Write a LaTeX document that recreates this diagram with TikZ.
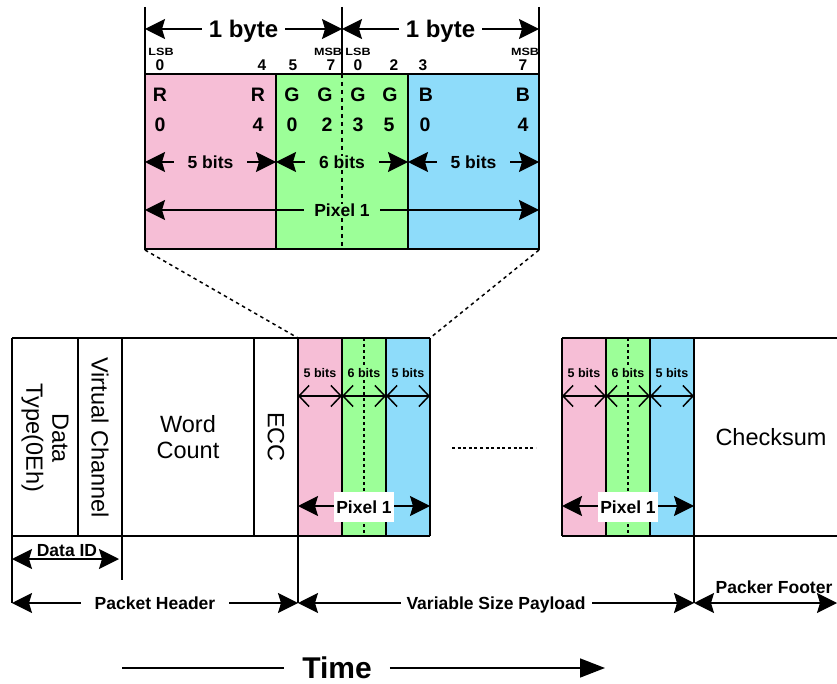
\documentclass[tikz,border=0pt]{standalone}
\usepackage{fontspec}
\setmainfont{Liberation Sans}
\usetikzlibrary{arrows.meta}
\definecolor{pk}{RGB}{246,190,214}
\definecolor{gn}{RGB}{156,255,152}
\definecolor{bl}{RGB}{142,220,250}
\begin{document}
\begin{tikzpicture}[x=1pt,y=-1pt,
  bd/.style={line width=1.6pt},
  dsh/.style={line width=1.5pt,dash pattern=on 4pt off 4pt},
  fa/.style={line width=1.6pt,{Stealth[length=20pt,width=20pt,inset=3pt]}-{Stealth[length=20pt,width=20pt,inset=3pt]}},
  oa/.style={line width=1.5pt,{Straight Barb[length=10pt,width=21pt]}-{Straight Barb[length=10pt,width=21pt]}},
  fbyte/.style={font=\bfseries\fontsize{24}{24}\selectfont,text height=17.2pt,text depth=0pt,inner ysep=0pt,inner xsep=7pt},
  flet/.style={font=\bfseries\fontsize{19.5}{19.5}\selectfont,text height=14pt,text depth=0pt,inner sep=0pt},
  fdig/.style={font=\bfseries\fontsize{15.5}{15.5}\selectfont,text height=11pt,text depth=0pt,inner sep=0pt},
  flsb/.style={font=\bfseries\fontsize{10.5}{10.5}\selectfont,text height=7.5pt,text depth=0pt,inner sep=0pt,xscale=1.2},
  fmid/.style={font=\bfseries\fontsize{17.5}{17.5}\selectfont,text height=12.6pt,text depth=0pt,inner ysep=0pt},
  fsm/.style={font=\bfseries\fontsize{12.5}{12.5}\selectfont,text height=9pt,text depth=0pt,inner sep=1pt},
  freg/.style={font=\fontsize{23.5}{26}\selectfont,align=center,inner sep=0pt},
  ftime/.style={font=\bfseries\fontsize{30}{30}\selectfont,text height=21.5pt,text depth=0pt,inner sep=0pt}
]
\useasboundingbox (0,0) rectangle (837,684);

% ---------- top enlarged pixel ----------
\fill[pk] (145,74) rectangle (276,249);
\fill[gn] (276,74) rectangle (408,249);
\fill[bl] (408,74) rectangle (539,249);
\draw[dsh] (342,74) -- (342,249);
\draw[bd] (145,74) rectangle (539,249);
\draw[bd] (276,74) -- (276,249);
\draw[bd] (408,74) -- (408,249);
\coordinate (tA) at (145,7);
\coordinate (tB) at (342,7);
\coordinate (tC) at (539,7);
\draw[bd] (tA) -- (145,74);
\draw[bd] (tB) -- (342,74);
\draw[bd] (tC) -- (539,74);
\draw[fa] (145,29) -- node[fbyte,fill=white] (byte1) {1 byte} (342,29);
\draw[fa] (342,29) -- node[fbyte,fill=white] (byte2) {1 byte} (539,29);

\node[flsb] (lsb1) at (161,52) {LSB};
\node[flsb] (msb1) at (328,52) {MSB};
\node[flsb] (lsb2) at (358,52) {LSB};
\node[flsb] (msb2) at (525,52) {MSB};
\node[fdig] (d0) at (160,65.5) {0};
\node[fdig] (d4) at (262,65.5) {4};
\node[fdig] (d5) at (293,65.5) {5};
\node[fdig] (d7) at (331,65.5) {7};
\node[fdig] (e0) at (358,65.5) {0};
\node[fdig] (e2) at (394,65.5) {2};
\node[fdig] (e3) at (423,65.5) {3};
\node[fdig] (e7) at (523,65.5) {7};

\node[flet] (r0) at (160,95) {R};
\node[flet] (r4) at (258,95) {R};
\node[flet] (g0) at (292,95) {G};
\node[flet] (g2) at (325,95) {G};
\node[flet] (g3) at (358,95) {G};
\node[flet] (g5) at (390,95) {G};
\node[flet] (b0) at (426,95) {B};
\node[flet] (b4) at (523,95) {B};
\node[flet] (nr0) at (160,125) {0};
\node[flet] (nr4) at (258,125) {4};
\node[flet] (ng0) at (292,125) {0};
\node[flet] (ng2) at (327,125) {2};
\node[flet] (ng3) at (358,125) {3};
\node[flet] (ng5) at (389,125) {5};
\node[flet] (nb0) at (425,125) {0};
\node[flet] (nb4) at (523,125) {4};

\draw[fa] (145,162) -- node[fmid,fill=pk,inner xsep=14pt] (tb1) {5 bits} (276,162);
\draw[fa] (276,162) -- node[fmid,fill=gn,inner xsep=14pt] (tb2) {6 bits} (408,162);
\draw[fa] (408,162) -- node[fmid,fill=bl,inner xsep=14pt] (tb3) {5 bits} (539,162);
\draw[fa] (145,210) -- node[fmid,fill=gn,inner xsep=10pt] (tpix) {Pixel 1} (539,210);

% zoom lines
\coordinate (zl) at (298,338);
\coordinate (zr) at (430,338);
\draw[dsh,dash pattern=on 3.5pt off 3.5pt] (145,250) -- (zl);
\draw[dsh,dash pattern=on 3.5pt off 3.5pt] (539,250) -- (zr);

% ---------- packet row ----------
\fill[pk] (298,338) rectangle (342,536);
\fill[gn] (342,338) rectangle (386,536);
\fill[bl] (386,338) rectangle (430,536);
\fill[pk] (562,338) rectangle (606,536);
\fill[gn] (606,338) rectangle (650,536);
\fill[bl] (650,338) rectangle (694,536);
\draw[dsh,dash pattern=on 3pt off 3pt] (364,338) -- (364,536);
\draw[dsh,dash pattern=on 3pt off 3pt] (628,338) -- (628,536);
\draw[bd] (12,338) -- (430,338);
\draw[bd] (12,536) -- (430,536);
\draw[bd] (562,338) -- (837,338);
\draw[bd] (562,536) -- (837,536);
\foreach \x in {78,254,342,386,430,562,606,650}
  \draw[bd] (\x,338) -- (\x,536);
\draw[bd] (12,338) -- (12,603);
\draw[bd] (122,338) -- (122,580);
\draw[bd] (298,338) -- (298,603);
\draw[bd] (694,338) -- (694,603);

\node[freg,rotate=-90] (dtype) at (45,438) {Data\\Type(0Eh)};
\node[freg,rotate=-90] (vc) at (100,437.5) {Virtual Channel};
\node[freg] (wc) at (188,437) {Word\\Count};
\node[freg,rotate=-90] (ecc) at (276,437) {ECC};
\node[freg] (cks) at (771,437) {Checksum};

% pixel groups in payload
\foreach \o/\n in {0/a,264/b}{
  \node[fsm] (s1\n) at (320+\o,373) {5 bits};
  \node[fsm,fill=gn] (s2\n) at (364+\o,373) {6 bits};
  \node[fsm] (s3\n) at (408+\o,373) {5 bits};
  \draw[oa] (298+\o,396) -- (342+\o,396);
  \draw[oa] (342+\o,396) -- (386+\o,396);
  \draw[oa] (386+\o,396) -- (430+\o,396);
  \draw[fa] (298+\o,506) -- (430+\o,506);
  \node[fmid,fill=white,inner xsep=2.5pt,inner ysep=8.7pt] (pix\n) at (364+\o,507) {Pixel 1};
}

\draw[line width=2pt,dash pattern=on 3pt off 2.6pt] (452,448) -- (536,448);

% ---------- bottom dimension arrows ----------
\draw[fa] (12,559) -- (119,559);
\node[fmid,inner sep=0pt] (did) at (67,550.5) {Data ID};
\draw[fa] (12,603) -- node[fmid,fill=white,inner xsep=14pt] (ph) {Packet Header} (298,603);
\draw[fa] (298,603) -- node[fmid,fill=white,inner xsep=6pt] (vsp) {Variable Size Payload} (694,603);
\draw[fa] (694,603) -- (837,603);
\node[fmid,inner sep=0pt] (pf) at (774,587) {Packer Footer};

% time
\node[ftime] (time) at (337,668) {Time};
\coordinate (t1) at (122,668);
\coordinate (t2) at (605,668);
\draw[line width=1.6pt] (t1) -- ([xshift=-18pt]time.west);
\draw[line width=1.6pt,-{Triangle[length=25pt,width=19pt]}] ([xshift=18pt]time.east) -- (t2);
\end{tikzpicture}
\end{document}
